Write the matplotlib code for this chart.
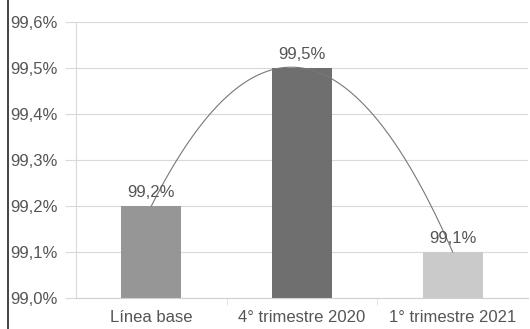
import numpy as np
import matplotlib
matplotlib.use("Agg")
import matplotlib.pyplot as plt
from matplotlib.ticker import FuncFormatter, FixedLocator
from matplotlib.lines import Line2D

categories = ["Línea base", "4° trimestre 2020", "1° trimestre 2021"]
values = [99.2, 99.5, 99.1]
bar_colors = ["#969696", "#6f6f6f", "#cacaca"]
yticks = [99.0, 99.1, 99.2, 99.3, 99.4, 99.5, 99.6]

plt.rcParams['font.family'] = ['Liberation Sans', 'DejaVu Sans']
text_color = "#555555"
fs = 12

fig = plt.figure(figsize=(5.30, 3.29), dpi=100)
ax = fig.add_axes([76/530, 31/329, 452/530, 276/329])

x = np.arange(len(categories))
ax.bar(x, values, width=0.4, color=bar_colors, zorder=2)

# polynomial (order 2) trend line
coef = np.polyfit(x, values, 2)
xs = np.linspace(x[0], x[-1], 200)
ax.plot(xs, np.polyval(coef, xs), color="#777777", lw=0.8, zorder=3)

for xi, v in zip(x, values):
    ax.text(xi, v + 0.012, f"{v:.1f}%".replace(".", ","), ha="center", va="bottom",
            fontsize=fs, color=text_color, zorder=4)

ax.set_ylim(99.0, 99.6)
ax.set_xlim(-0.5, len(categories) - 0.5)
ax.yaxis.set_major_locator(FixedLocator(yticks))
ax.yaxis.set_major_formatter(FuncFormatter(lambda v, p: f"{v:.1f}%".replace(".", ",")))
ax.set_xticks(x)
ax.set_xticklabels(categories)
ax.xaxis.set_minor_locator(FixedLocator([0.5, 1.5]))
ax.tick_params(axis="x", which="major", length=0, labelsize=fs, labelcolor=text_color, pad=9)
ax.tick_params(axis="x", which="minor", length=5, color="#dddddd")
ax.tick_params(axis="y", length=8, color="#d9d9d9", labelsize=fs, labelcolor=text_color, pad=5)

ax.grid(axis="y", color="#d9d9d9", lw=0.8, zorder=0)
for s in ["top", "right"]:
    ax.spines[s].set_visible(False)
ax.spines["left"].set_color("#d9d9d9")
ax.spines["bottom"].set_color("#d0d0d0")

fig.add_artist(Line2D([8/530, 8/530], [0, 1], color="#222222", lw=1.2, transform=fig.transFigure))

fig.savefig("out.png", dpi=100)
